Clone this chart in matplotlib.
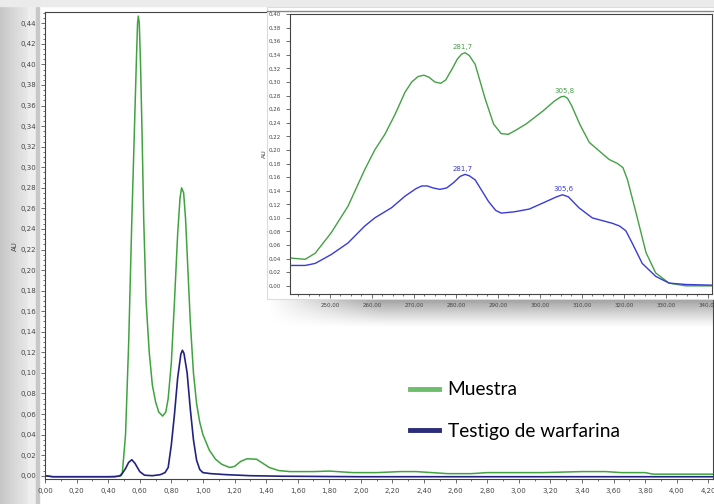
import numpy as np
import matplotlib
matplotlib.use("Agg")
import matplotlib.pyplot as plt
from matplotlib.ticker import MultipleLocator, FuncFormatter
from matplotlib.lines import Line2D

# chromatogram (minutes, AU)
t_muestra = [0.00, 0.05, 0.10, 0.20, 0.30, 0.40, 0.47, 0.49, 0.51, 0.53, 0.55, 0.565,
             0.578, 0.586, 0.591, 0.597, 0.605, 0.615, 0.625, 0.64, 0.66, 0.68, 0.70,
             0.72, 0.745, 0.765, 0.78, 0.80, 0.82, 0.84, 0.855, 0.865, 0.878, 0.89,
             0.905, 0.92, 0.94, 0.96, 0.98, 1.00, 1.04, 1.08, 1.12, 1.17, 1.20, 1.24,
             1.28, 1.34, 1.38, 1.42, 1.48, 1.55, 1.70, 1.80, 1.95, 2.10, 2.25, 2.35,
             2.45, 2.55, 2.70, 2.80, 3.15, 3.40, 3.55, 3.65, 3.80, 3.85, 4.23]
au_muestra = [0.000, -0.001, -0.001, -0.001, -0.001, -0.001, -0.0005, 0.003, 0.04, 0.13,
              0.25, 0.33, 0.40, 0.44, 0.447, 0.44, 0.40, 0.33, 0.25, 0.17, 0.12, 0.088,
              0.072, 0.062, 0.058, 0.062, 0.075, 0.11, 0.17, 0.235, 0.27, 0.280, 0.275,
              0.25, 0.20, 0.15, 0.10, 0.07, 0.052, 0.040, 0.025, 0.016, 0.011, 0.008,
              0.009, 0.014, 0.0165, 0.016, 0.012, 0.008, 0.005, 0.004, 0.004, 0.0045,
              0.003, 0.003, 0.004, 0.004, 0.003, 0.002, 0.002, 0.003, 0.003, 0.004,
              0.004, 0.003, 0.003, 0.0015, 0.0015]

t_testigo = [0.00, 0.05, 0.10, 0.30, 0.44, 0.48, 0.51, 0.53, 0.55, 0.57, 0.60, 0.63,
             0.68, 0.73, 0.76, 0.78, 0.80, 0.82, 0.84, 0.86, 0.87, 0.88, 0.90, 0.92,
             0.94, 0.96, 0.98, 1.00, 1.05, 1.15, 1.30, 1.50, 2.00, 4.23]
au_testigo = [0.000, -0.001, -0.001, -0.001, -0.001, 0.000, 0.007, 0.013, 0.0155, 0.012,
              0.004, 0.0005, 0.000, 0.001, 0.003, 0.008, 0.030, 0.060, 0.095, 0.118,
              0.122, 0.119, 0.100, 0.065, 0.035, 0.015, 0.006, 0.003, 0.002, 0.001,
              0.000, -0.0005, -0.001, -0.001]

# UV spectra (nm, AU)
nm_muestra = [240.5, 244.1, 246.5, 250.3, 254.3, 258.3, 260.7, 263.1, 265.5, 267.9,
              269.5, 271.0, 272.4, 273.6, 275.0, 276.4, 277.6, 279.0, 280.4, 281.4,
              282.2, 283.2, 284.6, 287.0, 289.0, 290.8, 292.5, 294.0, 296.7, 300.7,
              303.5, 305.0, 305.8, 306.6, 307.6, 309.5, 311.8, 316.5, 318.5, 319.8,
              320.9, 322.9, 325.3, 327.6, 330.8, 334.8, 341.0]
sp_muestra = [0.041, 0.039, 0.048, 0.078, 0.117, 0.171, 0.200, 0.223, 0.252, 0.285,
              0.300, 0.308, 0.310, 0.307, 0.300, 0.298, 0.303, 0.318, 0.334, 0.341,
              0.343, 0.339, 0.326, 0.275, 0.238, 0.224, 0.223, 0.228, 0.238, 0.257,
              0.272, 0.278, 0.279, 0.276, 0.265, 0.238, 0.211, 0.186, 0.180, 0.174,
              0.156, 0.108, 0.049, 0.019, 0.004, 0.000, 0.000]
nm_testigo = [240.5, 244.1, 246.5, 250.3, 254.3, 258.3, 260.7, 264.7, 267.9, 270.5,
              271.9, 273.2, 274.6, 276.2, 277.8, 279.5, 281.0, 282.2, 283.2, 284.6,
              287.8, 289.5, 290.8, 294.0, 297.5, 301.5, 304.0, 305.4, 306.8, 309.3,
              312.5, 317.3, 319.0, 320.5, 322.0, 324.4, 327.6, 330.8, 334.8, 341.0]
sp_testigo = [0.030, 0.030, 0.033, 0.046, 0.063, 0.088, 0.100, 0.115, 0.132, 0.143,
              0.147, 0.147, 0.144, 0.142, 0.144, 0.152, 0.161, 0.164, 0.162, 0.156,
              0.124, 0.111, 0.107, 0.109, 0.113, 0.124, 0.131, 0.134, 0.131, 0.115,
              0.100, 0.092, 0.088, 0.081, 0.063, 0.033, 0.014, 0.004, 0.002, 0.001]

# peak labels on the spectra
lbl_muestra = [(281.7, 0.343, "281,7"), (305.8, 0.279, "305,8")]
lbl_testigo = [(281.7, 0.164, "281,7"), (305.6, 0.134, "305,6")]

GREEN = "#3fa33f"
NAVY = "#23237f"
IN_GREEN = "#45a045"
IN_BLUE = "#3a3ad8"
W, H = 714, 504


def comma_fmt(nd):
    return FuncFormatter(lambda v, p: ("{:.%df}" % nd).format(v).replace(".", ","))


def style_axes(ax):
    for s in ax.spines.values():
        s.set_color("#444444")
        s.set_linewidth(0.8)
    ax.tick_params(which="both", direction="out", colors="#555555",
                   labelcolor="#444444", labelsize=5, width=0.6)
    ax.tick_params(which="major", length=3)
    ax.tick_params(which="minor", length=1.5)


fig = plt.figure(figsize=(W / 100, H / 100), dpi=100)

# screenshot-like background (left gray strip, top band)
bg = fig.add_axes([0, 0, 1, 1], zorder=0)
bg.set_xlim(0, W)
bg.set_ylim(H, 0)
bg.axis("off")
strip = np.linspace(0.78, 0.91, 28)[None, :, None] * np.ones((2, 1, 3))
bg.imshow(strip, extent=(0, 28, H, 0), aspect="auto")
bg.axvspan(28, 36, color="#eeeeee")
bg.axvspan(36, 38.5, color="#c8c8c8")
bg.axhspan(0, 6, color="#ebebeb")

# main chromatogram
ax = fig.add_axes([45 / W, (H - 479.3) / H, (713 - 45) / W, (479.3 - 12) / H], zorder=1)
ax.plot(t_muestra, au_muestra, color=GREEN, lw=1.1)
ax.plot(t_testigo, au_testigo, color=NAVY, lw=1.2)
ax.set_xlim(0, 4.23)
ax.set_ylim(-0.0035, 0.451)
ax.xaxis.set_major_locator(MultipleLocator(0.2))
ax.xaxis.set_minor_locator(MultipleLocator(0.1))
ax.yaxis.set_major_locator(MultipleLocator(0.02))
ax.yaxis.set_minor_locator(MultipleLocator(0.005))
ax.xaxis.set_major_formatter(comma_fmt(2))
ax.yaxis.set_major_formatter(comma_fmt(2))
style_axes(ax)
ax.set_ylabel("AU", fontsize=5, color="#444444", labelpad=2)

# shadow under the inset panel
ov = fig.add_axes([0, 0, 1, 1], zorder=2)
ov.set_xlim(0, W)
ov.set_ylim(H, 0)
ov.axis("off")
ov.patch.set_alpha(0)
ys = np.linspace(0, 1, 30)[:, None]
xs = np.linspace(0, 1, 200)[None, :]
alpha = 0.6 * (1 - ys) ** 1.2 * np.clip(xs * 4, 0, 1)
shade = np.zeros((30, 200, 4))
shade[..., :3] = 0.35
shade[..., 3] = alpha
ov.imshow(shade, extent=(268, W, 328, 298), aspect="auto")
ov.add_patch(plt.Rectangle((267, 7), W - 267, 292, facecolor="white",
                           edgecolor="#dcdcdc", lw=0.8))
ov.plot([267, W], [10.5, 10.5], color="#8a8a8a", lw=1.0)

# inset: UV spectra
ins = fig.add_axes([290 / W, (H - 294) / H, (711.5 - 290) / W, (294 - 14) / H], zorder=3)
ins.plot(nm_muestra, sp_muestra, color=IN_GREEN, lw=1.0)
ins.plot(nm_testigo, sp_testigo, color=IN_BLUE, lw=1.0)
for x, y, s in lbl_muestra:
    ins.text(x, y + 0.004, s, color=IN_GREEN, fontsize=5, ha="center", va="bottom")
for x, y, s in lbl_testigo:
    ins.text(x, y + 0.004, s, color=IN_BLUE, fontsize=5, ha="center", va="bottom")
ins.set_xlim(240.5, 340.9)
ins.set_ylim(-0.012, 0.40)
ins.xaxis.set_major_locator(MultipleLocator(10))
ins.xaxis.set_minor_locator(MultipleLocator(2.5))
ins.yaxis.set_major_locator(MultipleLocator(0.02))
ins.xaxis.set_major_formatter(comma_fmt(2))
ins.yaxis.set_major_formatter(comma_fmt(2))
style_axes(ins)
ins.tick_params(labelsize=4)
ins.set_ylabel("AU", fontsize=4.5, color="#444444", labelpad=1)

# legend
handles = [Line2D([], [], color="#6cbd6c", lw=3.5),
           Line2D([], [], color="#2a2c78", lw=3.5)]
leg = fig.legend(handles, ["Muestra", "Testigo de warfarina"], loc="upper left",
                 bbox_to_anchor=(393 / W, 1 - 364 / H), frameon=False,
                 prop={"family": "Lato", "size": 13.8}, handlelength=1.5,
                 handletextpad=0.45, labelspacing=1.3, borderpad=0.4)
leg.set_zorder(4)

fig.savefig("out.png", dpi=100)
